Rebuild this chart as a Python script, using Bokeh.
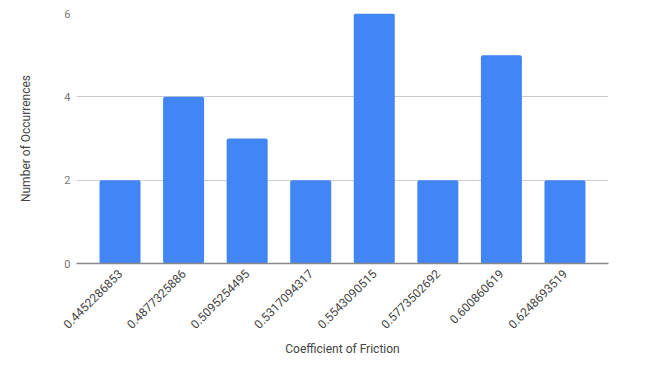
import math
from bokeh.plotting import figure
from bokeh.models import ColumnDataSource, FactorRange
from bokeh.embed import file_html
from bokeh.resources import INLINE

categories = ["0.4452286853", "0.4877325886", "0.5095254495", "0.5317094317",
              "0.5543090515", "0.5773502692", "0.600860619", "0.6248693519"]
counts = [2, 4, 3, 2, 6, 2, 5, 2]
y_ticks = [0, 2, 4, 6]

source = ColumnDataSource(data=dict(cat=categories, n=counts))

xr = FactorRange(factors=categories, range_padding=0.185, range_padding_units="absolute")
p = figure(x_range=xr, y_range=(0, 6), width=646, height=358,
           output_backend="svg", toolbar_location=None,
           min_border_left=76, min_border_right=38, min_border_top=13, min_border_bottom=95)
p.vbar(x="cat", top="n", width=0.645, source=source, color="#4285F4", line_color=None,
       border_radius=2)

p.outline_line_color = None
p.background_fill_color = "white"
p.border_fill_color = "white"

p.xgrid.grid_line_color = None
p.ygrid.grid_line_color = "#cccccc"
p.ygrid.ticker = y_ticks
p.yaxis.ticker = y_ticks

p.yaxis.axis_line_color = None
p.yaxis.major_tick_line_color = None
p.yaxis.minor_tick_line_color = None
p.yaxis.major_tick_out = 0
p.yaxis.major_label_standoff = 6
p.yaxis.major_label_text_color = "#757575"
p.yaxis.major_label_text_font = "Roboto"
p.yaxis.major_label_text_font_size = "11px"
p.yaxis.axis_label = "Number of Occurrences"
p.yaxis.axis_label_text_font = "Roboto"
p.yaxis.axis_label_text_font_style = "normal"
p.yaxis.axis_label_text_font_size = "12px"
p.yaxis.axis_label_text_color = "#444444"
p.yaxis.axis_label_standoff = 28

p.xaxis.axis_line_color = "#888888"
p.xaxis.axis_line_width = 1.5
p.xaxis.major_tick_line_color = None
p.xaxis.minor_tick_line_color = None
p.xaxis.major_tick_out = 0
p.xaxis.major_label_standoff = 8
p.xaxis.major_label_orientation = math.pi / 4
p.xaxis.major_label_text_color = "#444444"
p.xaxis.major_label_text_font = "Roboto"
p.xaxis.major_label_text_font_size = "12px"
p.xaxis.axis_label = "Coefficient of Friction"
p.xaxis.axis_label_text_font = "Roboto"
p.xaxis.axis_label_text_font_style = "normal"
p.xaxis.axis_label_text_font_size = "12px"
p.xaxis.axis_label_text_color = "#444444"
p.xaxis.axis_label_standoff = 6

open("out.html", "w").write(file_html(p, INLINE))
